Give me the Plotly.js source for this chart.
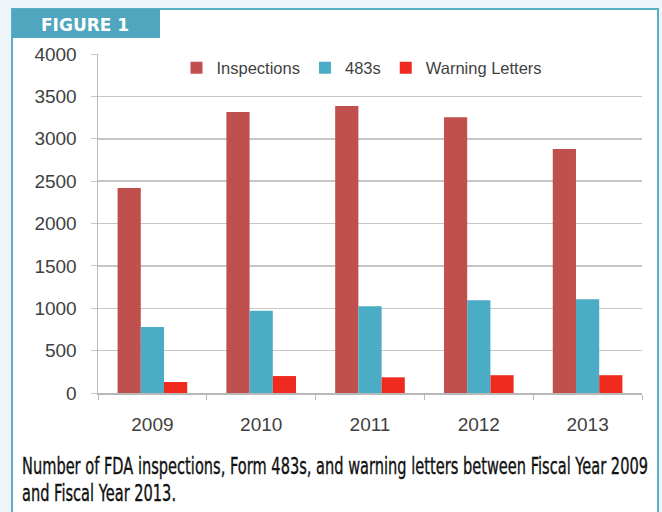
<!DOCTYPE html>
<html>
<head>
<meta charset="utf-8">
<script src="https://cdn.plot.ly/plotly-3.0.1.min.js"></script>
<style>
  html, body { margin: 0; padding: 0; background: #eef5f9; }
  #chart { width: 662px; height: 512px; }
</style>
</head>
<body>
<div id="chart"></div>
<script>
// ---- Data ----
const years = ["2009", "2010", "2011", "2012", "2013"];
const inspections = [2420, 3315, 3385, 3255, 2880];
const form483s = [780, 970, 1025, 1095, 1105];
const warningLetters = [130, 200, 185, 210, 210];
const seriesNames = ["Inspections", "483s", "Warning Letters"];
const captionLines = [
  "Number of FDA inspections, Form 483s, and warning letters between Fiscal Year 2009",
  "and Fiscal Year 2013."
];
const figureLabel = "FIGURE 1";

// ---- Geometry helpers (plot area in pixels) ----
const L = 98, R = 642, T = 54, B = 393;
const W = R - L, H = B - T;
const px = v => (v - L) / W;
const py = v => (B - v) / H;

const tickFont = { family: "Liberation Sans, Arial, sans-serif", size: 19, color: "#3f3f3f" };
// caption drawn at a small size, then stretched vertically to the original's tall condensed look
const captionSize = 14.5, captionTargetSize = 23;
const captionFont = { family: "DejaVu Sans, sans-serif", size: captionSize, color: "#111111" };

const traces = [
  { type: "bar", name: seriesNames[0], x: years, y: inspections, marker: { color: "#c0504d" } },
  { type: "bar", name: seriesNames[1], x: years, y: form483s, marker: { color: "#4bacc6" } },
  { type: "bar", name: seriesNames[2], x: years, y: warningLetters, marker: { color: "#ee2b1e" } }
];

const layout = {
  width: 662, height: 512, autosize: false,
  margin: { l: L, r: 662 - R, t: T, b: 512 - B, pad: 0 },
  paper_bgcolor: "#eef5f9",
  plot_bgcolor: "rgba(0,0,0,0)",
  barmode: "group",
  bargap: 0.36,
  bargroupgap: 0,
  showlegend: true,
  legend: {
    orientation: "h", x: px(362), xanchor: "center", y: py(68), yanchor: "middle",
    font: { family: "Liberation Sans, Arial, sans-serif", size: 16.5, color: "#3f3f3f" },
    bgcolor: "rgba(0,0,0,0)", itemwidth: 30
  },
  xaxis: {
    type: "category",
    showline: true, linecolor: "#b8b8b8", linewidth: 1.5,
    ticks: "outside", tickson: "boundaries", ticklen: 5, tickcolor: "#b8b8b8",
    tickfont: tickFont, ticklabelstandoff: 14,
    showgrid: false, zeroline: false, fixedrange: true
  },
  yaxis: {
    range: [0, 4000], dtick: 500, tick0: 0,
    showline: true, linecolor: "#b8b8b8", linewidth: 1.5,
    gridcolor: "#c6c6c6", gridwidth: 1.5,
    ticks: "outside", ticklen: 6, tickcolor: "#c6c6c6",
    tickfont: tickFont, ticklabelstandoff: 10,
    zeroline: false, fixedrange: true
  },
  shapes: [
    { type: "rect", xref: "paper", yref: "paper", layer: "below",
      x0: px(12), x1: px(658), y0: py(525), y1: py(9),
      fillcolor: "#ffffff", line: { color: "#5aafc6", width: 2 } },
    { type: "rect", xref: "paper", yref: "paper", layer: "below",
      x0: px(12), x1: px(160), y0: py(38), y1: py(9),
      fillcolor: "#4fa6be", line: { width: 0 } }
  ],
  annotations: [
    { text: "<b>" + figureLabel + "</b>", xref: "paper", yref: "paper",
      x: px(85), y: py(25), xanchor: "center", yanchor: "middle", showarrow: false,
      font: { family: "DejaVu Sans, sans-serif", size: 17, color: "#ffffff" } },
    { text: captionLines[0], xref: "paper", yref: "paper",
      x: px(22), y: py(466), xanchor: "left", yanchor: "middle", showarrow: false,
      font: captionFont, borderpad: 0 },
    { text: captionLines[1], xref: "paper", yref: "paper",
      x: px(22), y: py(492.5), xanchor: "left", yanchor: "middle", showarrow: false,
      font: captionFont, borderpad: 0 }
  ]
};

Plotly.newPlot("chart", traces, layout, { displayModeBar: false, staticPlot: true }).then(gd => {
  const groups = gd.querySelectorAll(".annotation");
  const capLeft = 22, capRight = 648;
  const g1 = groups[1], g2 = groups[2];
  if (!g1 || !g2) return;
  const line1 = g1.querySelector(".annotation-text");
  const line2 = g2.querySelector(".annotation-text");
  const n1 = line1.getComputedTextLength();
  const n2 = line2.getComputedTextLength();
  const ratio = (capRight - capLeft) / n1;
  const sy = captionTargetSize / captionSize;
  const hostRect = gd.getBoundingClientRect();
  [[line1, n1], [line2, n2]].forEach(([el, n]) => {
    const newLen = n * ratio;
    el.setAttribute("textLength", newLen.toFixed(2));
    el.setAttribute("lengthAdjust", "spacingAndGlyphs");
    el.style.stroke = "#111111";
    el.style.strokeWidth = "0.25px";
    const bb = el.getBBox();
    const cy = bb.y + bb.height / 2;
    const prev = el.getAttribute("transform") || "";
    el.setAttribute("transform", prev + " translate(0 " + cy.toFixed(2) + ") scale(1 " + sy.toFixed(4) + ") translate(0 " + (-cy).toFixed(2) + ")");
    const rect = el.getBoundingClientRect();
    const dx = capLeft - (rect.left - hostRect.left);
    el.setAttribute("x", (parseFloat(el.getAttribute("x") || 0) + dx).toFixed(2));
  });
});
</script>
</body>
</html>
